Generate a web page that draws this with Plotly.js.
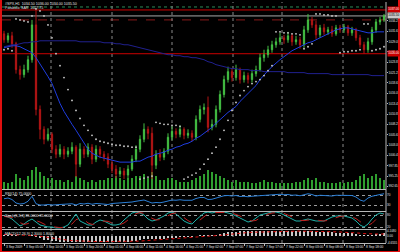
<!DOCTYPE html>
<html><head><meta charset="utf-8">
<script src="https://cdn.plot.ly/plotly-3.0.1.min.js"></script>
<style>html,body{margin:0;padding:0;background:#000;overflow:hidden}#chart{width:400px;height:252px}</style>
</head><body><div id="chart"></div>
<script>
const timeLabels = ["3 Sep 2009","3 Sep 05:00","3 Sep 10:00","3 Sep 15:00","3 Sep 20:00","4 Sep 01:00","4 Sep 06:00","4 Sep 11:00","4 Sep 16:00","4 Sep 21:00","7 Sep 02:00","7 Sep 07:00","7 Sep 12:00","7 Sep 17:00","7 Sep 22:00","8 Sep 03:00","8 Sep 08:00","8 Sep 13:00","8 Sep 18:00"];

const opens = [1031.00,1029.50,1030.50,1028.50,1022.00,1020.75,1022.00,1024.50,1033.25,1012.00,
1007.00,1004.50,1005.75,1002.00,1000.75,1002.00,1000.75,1001.50,1002.50,998.25,
1002.00,1000.75,1002.50,999.50,1002.00,1000.75,1000.00,998.25,997.00,995.75,
996.50,995.50,997.00,999.50,1002.00,1004.50,1007.00,1006.00,998.00,1000.75,
1000.00,1001.50,1005.00,1006.50,1005.75,1007.00,1005.50,1006.00,1005.00,1009.50,
1012.00,1012.50,1007.50,1008.25,1012.00,1015.75,1019.50,1021.50,1020.00,1022.00,
1019.50,1020.50,1019.50,1021.00,1022.00,1025.00,1025.75,1027.00,1028.25,1029.00,
1030.00,1029.50,1030.50,1029.00,1029.50,1028.25,1032.00,1034.50,1033.25,1030.75,
1032.50,1031.50,1032.00,1031.00,1032.50,1032.00,1032.75,1031.25,1032.00,1030.00,
1028.25,1027.00,1029.00,1032.00,1034.00,1034.50];
const highs = [1031.75,1031.25,1031.50,1029.00,1023.00,1023.25,1025.50,1034.50,1037.00,1013.00,
1007.75,1007.25,1006.25,1003.00,1003.25,1002.75,1002.50,1003.75,1003.00,1003.50,
1002.75,1003.50,1003.25,1003.00,1002.75,1001.50,1001.00,999.25,998.00,997.50,
997.25,998.00,1000.50,1003.00,1005.50,1008.50,1007.75,1007.50,1001.75,1002.00,
1002.25,1006.00,1007.75,1007.25,1008.00,1007.50,1007.00,1006.75,1010.50,1013.00,
1013.50,1015.25,1009.50,1013.00,1016.75,1020.50,1022.75,1022.25,1023.25,1022.50,
1021.50,1021.25,1022.00,1023.00,1026.00,1027.00,1028.00,1029.25,1030.00,1031.25,
1030.75,1031.50,1031.00,1030.50,1030.25,1033.00,1036.00,1035.25,1034.25,1033.25,
1033.50,1032.75,1033.00,1033.25,1033.25,1033.50,1033.25,1032.75,1032.50,1030.75,
1029.00,1030.00,1032.75,1034.75,1035.25,1036.00];
const lows = [1028.75,1028.75,1027.50,1021.00,1019.50,1020.00,1021.25,1023.75,1010.50,1004.50,
1003.25,1004.00,1001.00,999.75,1000.00,999.50,1000.00,1000.75,995.00,997.50,
999.75,1000.00,998.25,998.75,999.75,999.00,997.25,996.00,994.75,995.00,
994.50,994.75,996.50,998.75,1001.25,1003.75,1004.50,994.50,997.00,999.00,
999.25,1000.75,1004.25,1004.75,1005.00,1004.50,1004.75,1004.00,1004.25,1008.75,
1010.75,1006.25,1006.75,1007.50,1011.25,1015.00,1018.75,1019.00,1019.25,1018.50,
1018.75,1018.50,1018.75,1020.25,1021.50,1024.00,1025.00,1026.25,1027.50,1028.25,
1028.50,1028.75,1028.00,1028.25,1027.25,1027.50,1031.25,1032.50,1029.75,1030.00,
1030.75,1030.75,1030.25,1030.50,1031.25,1031.25,1030.50,1030.50,1029.25,1027.50,
1026.00,1026.25,1028.25,1031.25,1033.25,1034.00];
const closes = [1029.50,1030.50,1028.50,1022.00,1020.75,1022.00,1024.50,1033.25,1012.00,1007.00,
1004.50,1005.75,1002.00,1000.75,1002.00,1000.75,1001.50,1002.50,998.25,1002.00,
1000.75,1002.50,999.50,1002.00,1000.75,1000.00,998.25,997.00,995.75,996.50,
995.50,997.00,999.50,1002.00,1004.50,1007.00,1006.00,998.00,1000.75,1000.00,
1001.50,1005.00,1006.50,1005.75,1007.00,1005.50,1006.00,1005.00,1009.50,1012.00,
1012.50,1007.50,1008.25,1012.00,1015.75,1019.50,1021.50,1020.00,1022.00,1019.50,
1020.50,1019.50,1021.00,1022.00,1025.00,1025.75,1027.00,1028.25,1029.00,1030.00,
1029.50,1030.50,1029.00,1029.50,1028.25,1032.00,1034.50,1033.25,1030.75,1032.50,
1031.50,1032.00,1031.00,1032.50,1032.00,1032.75,1031.25,1032.00,1030.00,1028.25,
1027.00,1029.00,1032.00,1034.00,1034.50,1035.50];
const volumes = [4,3,4,8,6,5,7,10,12,9,
7,6,6,5,5,4,5,4,7,6,
5,4,5,4,5,5,6,6,7,6,
5,6,6,7,7,8,6,9,7,5,
5,6,6,5,4,4,4,5,6,7,
8,10,9,8,7,6,5,4,5,4,
4,4,3,3,4,5,4,4,3,3,
3,3,3,4,4,5,6,5,6,4,
4,3,3,3,4,3,4,4,5,7,
8,6,7,8,6,5];
const maFast = [1027.50,1027.75,1028.00,1028.00,1027.75,1027.25,1026.75,1026.25,1025.00,1023.50,
1022.00,1020.25,1018.50,1015.75,1013.50,1011.50,1009.75,1008.25,1006.75,1005.25,
1003.75,1002.00,1001.00,1000.50,1000.00,999.75,999.50,999.25,999.00,998.75,
998.75,998.75,998.75,999.00,999.00,999.50,1000.00,1000.25,1000.75,1001.00,
1001.25,1001.75,1002.00,1002.50,1002.75,1003.25,1003.50,1004.00,1004.75,1005.25,
1006.00,1006.75,1007.50,1008.50,1009.50,1010.50,1011.25,1012.00,1012.75,1014.00,
1015.00,1016.00,1016.75,1018.00,1019.50,1020.75,1021.75,1022.75,1023.75,1024.50,
1025.25,1026.00,1026.75,1027.25,1027.75,1028.25,1028.75,1029.00,1029.50,1030.00,
1030.50,1031.00,1031.50,1032.00,1032.25,1032.50,1032.50,1032.25,1032.00,1031.75,
1031.50,1031.25,1031.25,1031.50,1031.50,1031.50];
const maSlow = [1027.75,1028.00,1028.25,1028.25,1028.50,1028.75,1028.75,1029.00,1029.00,1029.25,
1029.25,1029.25,1029.25,1029.25,1029.25,1029.25,1029.25,1029.25,1029.25,1029.00,
1029.00,1029.00,1029.00,1029.00,1029.00,1028.75,1028.75,1028.75,1028.50,1028.50,
1028.25,1028.25,1028.00,1027.75,1027.50,1027.25,1027.00,1026.75,1026.50,1026.25,
1026.00,1025.75,1025.75,1025.50,1025.50,1025.25,1025.25,1025.00,1025.00,1024.75,
1024.50,1024.00,1023.75,1023.25,1023.00,1022.75,1022.50,1022.25,1022.25,1022.00,
1022.00,1022.00,1021.75,1021.75,1021.75,1021.50,1021.50,1021.50,1021.50,1021.50,
1021.50,1021.25,1021.25,1021.25,1021.25,1021.25,1021.00,1021.00,1021.00,1021.00,
1021.00,1021.00,1020.75,1020.75,1020.75,1020.75,1020.75,1020.75,1020.75,1020.75,
1020.75,1020.75,1020.50,1020.50,1020.50,1020.50];
const sar = [1027.00,1027.25,1026.75,1034.75,1034.50,1034.25,1034.00,1035.50,1037.25,1036.75,
1035.50,1033.25,1030.00,1026.00,1023.00,1020.00,1017.00,1014.25,1011.75,1009.75,
1008.00,1006.75,1005.50,1004.50,1004.00,1003.75,1003.50,1003.25,1003.00,1003.00,
1002.75,1002.75,1002.50,1002.50,994.50,994.75,995.00,995.25,1008.75,1008.50,
1008.25,1008.25,1008.00,1008.00,1007.75,994.50,995.00,995.50,996.00,997.00,
998.25,999.50,1001.00,1002.50,1004.50,1006.75,1009.25,1011.75,1013.75,1015.50,
1016.75,1017.75,1018.50,1019.00,1019.50,1020.50,1021.75,1023.00,1031.50,1031.50,
1031.25,1031.25,1031.00,1031.00,1030.75,1027.25,1027.75,1028.50,1036.00,1036.00,
1035.75,1035.75,1035.50,1035.50,1026.25,1026.50,1026.50,1026.75,1026.75,1027.00,
1033.50,1033.50,1026.75,1027.00,1027.25,1027.75];
const rsi = [55,58,52,38,34,36,45,65,35,30,
30,32,30,32,34,33,34,35,30,36,
34,37,33,36,35,34,32,36,37,38,
37,40,42,45,46,50,44,38,40,39,
42,47,50,49,51,49,50,49,56,60,
60,52,53,58,63,67,68,66,68,64,
65,63,65,66,69,70,71,72,72,73,
71,72,69,70,67,72,75,72,66,69,
67,68,66,69,68,70,66,68,62,50,
45,58,65,70,72,75];
const stochMain = [75,70,60,40,25,35,50,60,45,30,
25,20,20,15,15,20,30,55,85,50,
40,30,30,45,55,50,40,30,30,35,
55,75,90,95,90,80,60,50,55,65,
75,90,95,85,65,50,40,35,55,75,
90,95,90,95,95,95,90,85,75,65,
55,45,50,65,80,85,90,95,95,90,
80,70,60,50,50,55,60,55,50,50,
50,60,70,75,75,75,70,65,50,30,
20,35,60,80,90,85];
const stochSignal = [73,72,68,57,42,33,37,45,52,45,
33,25,22,18,17,17,22,35,57,63,
58,40,33,35,43,50,48,40,33,32,
40,55,73,87,92,88,77,63,55,57,
65,77,87,90,82,67,52,42,43,55,
73,87,92,93,93,95,93,90,83,75,
65,55,50,53,65,77,85,90,93,93,
88,80,70,60,53,52,55,57,55,52,
50,53,60,68,73,75,73,70,62,48,
33,28,38,58,77,85];
const macdHist = [1.2,1.3,1.2,0.8,0.4,0.2,0.3,0.9,-0.6,-1.6,
-2.4,-2.8,-3.2,-3.6,-3.9,-4.1,-4.2,-4.2,-4.4,-4.2,
-4.2,-4.0,-4.1,-4.0,-3.9,-3.9,-4.0,-4.1,-4.3,-4.3,
-4.3,-4.1,-3.7,-3.2,-2.7,-2.1,-2.0,-2.3,-2.2,-2.1,
-1.9,-1.5,-1.1,-0.9,-0.7,-0.6,-0.5,-0.4,0.1,0.7,
1.0,0.9,0.9,1.2,1.8,2.5,3.0,3.3,3.6,3.7,
3.7,3.7,3.7,3.8,4.0,4.1,4.2,4.3,4.3,4.3,
4.2,4.2,4.0,3.9,3.7,3.8,4.0,3.9,3.6,3.5,
3.3,3.2,3.0,2.9,2.8,2.7,2.5,2.3,1.9,1.3,
0.8,0.8,1.1,1.5,1.9,2.3];
const macdSignal = [1.5,1.4,1.4,1.3,1.1,0.9,0.8,0.8,0.5,0.1,
-0.4,-0.9,-1.4,-1.8,-2.2,-2.6,-2.9,-3.2,-3.4,-3.6,
-3.7,-3.8,-3.9,-3.9,-3.9,-3.9,-3.9,-4.0,-4.0,-4.1,
-4.1,-4.1,-4.0,-3.8,-3.6,-3.3,-3.1,-2.9,-2.8,-2.6,
-2.5,-2.3,-2.0,-1.8,-1.6,-1.4,-1.2,-1.0,-0.8,-0.5,
-0.2,0.0,0.2,0.4,0.7,1.0,1.4,1.8,2.1,2.4,
2.7,2.9,3.1,3.2,3.4,3.5,3.7,3.8,3.9,4.0,
4.0,4.1,4.1,4.0,4.0,3.9,3.9,3.9,3.8,3.8,
3.7,3.6,3.5,3.4,3.3,3.2,3.0,2.9,2.7,2.4,
2.1,1.9,1.7,1.7,1.7,1.8];
const priceTicks = [1034.25,1031.65,1029.05,1026.45,1023.85,1021.25,1018.65,1016.05,1013.45,1010.85,1008.25,1005.65,1003.05,1000.45,997.85,995.25,992.65];
const levelValues = [1037.75,1037.00,1035.50,1034.50,1026.00];
const rsiLevels = [30,70];
const stochLevels = [20,80];
const macdTicks = [4.1080,0,-4.6555];
const gridBars = [11.75,27,42,57.25,69.5,84.75];

const n = closes.length;
const idx = closes.map((_, i) => i);
const labelBars = timeLabels.map((_, k) => k * 5);
const last = a => a[a.length - 1];

const traces = [
  {type:'bar', x:idx, y:volumes, yaxis:'y', marker:{color:'#2f9e2f', line:{width:0}}, width:0.3, hoverinfo:'skip'},
  {type:'candlestick', x:idx, open:opens, high:highs, low:lows, close:closes, xaxis:'x', yaxis:'y2',
   increasing:{line:{color:'#44c044', width:1}, fillcolor:'#44c044'},
   decreasing:{line:{color:'#b31515', width:1}, fillcolor:'#b31515'},
   whiskerwidth:0, hoverinfo:'skip'},
  {type:'scatter', mode:'lines', x:idx, y:maSlow, yaxis:'y2', line:{color:'#20208e', width:1}, hoverinfo:'skip'},
  {type:'scatter', mode:'lines', x:idx, y:maFast, yaxis:'y2', line:{color:'#1f3de0', width:1}, hoverinfo:'skip'},
  {type:'scatter', mode:'markers', x:idx, y:sar, yaxis:'y2', marker:{color:'#cfcfcf', size:1.8}, hoverinfo:'skip'},
  {type:'scatter', mode:'lines', x:idx, y:rsi, yaxis:'y3', line:{color:'#2b7fd6', width:1}, hoverinfo:'skip'},
  {type:'scatter', mode:'lines', x:idx, y:stochMain, yaxis:'y4', line:{color:'#20b2aa', width:1}, hoverinfo:'skip'},
  {type:'scatter', mode:'lines', x:idx, y:stochSignal, yaxis:'y4', line:{color:'#c02020', width:1, dash:'dash'}, hoverinfo:'skip'},
  {type:'bar', x:idx, y:macdHist, yaxis:'y5', marker:{color:'#c8c8c8', line:{width:0}}, width:0.3, hoverinfo:'skip'},
  {type:'scatter', mode:'lines', x:idx, y:macdSignal, yaxis:'y5', line:{color:'#e01010', width:1, dash:'dot'}, hoverinfo:'skip'}
];

// margins l2 r14 t2 b9 -> plot area 384 x 241 (py 2..243)
const px = v => (v - 2) / 384;
const py = v => (243 - v) / 241;

const levelStyles = [
  {color:'#2e8b57', dash:'dot'},
  {color:'#cc0000', dash:'solid'},
  {color:'#a8a8a8', dash:'solid'},
  {color:'#8b1a1a', dash:'dash'},
  {color:'#cc0000', dash:'solid'}
];
const shapes = [];
levelValues.forEach((v, k) => shapes.push({type:'line', xref:'paper', yref:'y2', x0:0, x1:1, y0:v, y1:v, layer:'below', line:{color:levelStyles[k].color, width:1, dash:levelStyles[k].dash}}));
gridBars.forEach(b => shapes.push({type:'line', xref:'x', yref:'paper', x0:b, x1:b, y0:0, y1:1, layer:'below', line:{color:'#8a8a8a', width:1, dash:'dot'}}));
[189.5, 211.5, 229.5].forEach(v => shapes.push({type:'line', xref:'paper', yref:'paper', x0:0, x1:1, y0:py(v), y1:py(v), line:{color:'#b8b8b8', width:1}}));
shapes.push({type:'line', xref:'paper', yref:'paper', x0:1, x1:1, y0:0, y1:1, line:{color:'#b8b8b8', width:1}});
shapes.push({type:'line', xref:'paper', yref:'paper', x0:px(1), x1:px(1), y0:py(252), y1:py(0), line:{color:'#e01010', width:2}});
shapes.push({type:'line', xref:'paper', yref:'paper', x0:px(399), x1:px(399), y0:py(252), y1:py(0), line:{color:'#e01010', width:2}});
shapes.push({type:'line', xref:'paper', yref:'paper', x0:px(0), x1:px(400), y0:py(251.5), y1:py(251.5), line:{color:'#e01010', width:1}});

const fam = 'Liberation Sans, Arial, sans-serif';
const small = {family:fam, size:3.6, color:'#e6e6e6'};
const annotations = [
  {xref:'paper', yref:'paper', x:px(4), y:py(0.5), xanchor:'left', yanchor:'top', showarrow:false, font:small, borderpad:0,
   text:`#SPX,H1  ${last(opens).toFixed(2)} ${last(highs).toFixed(2)} ${last(lows).toFixed(2)} ${last(closes).toFixed(2)}`},
  {xref:'paper', yref:'paper', x:px(4), y:py(5.2), xanchor:'left', yanchor:'top', showarrow:false, font:small, borderpad:0,
   text:`Parabolic SAR  ${last(sar).toFixed(2)}`},
  {xref:'paper', yref:'paper', x:px(4), y:py(190.5), xanchor:'left', yanchor:'top', showarrow:false, font:small, borderpad:0,
   text:`RSI(14) ${last(rsi).toFixed(4)}`},
  {xref:'paper', yref:'paper', x:px(4), y:py(212.5), xanchor:'left', yanchor:'top', showarrow:false, font:small, borderpad:0,
   text:`Stoch(5,3,3) ${last(stochMain).toFixed(4)} ${last(stochSignal).toFixed(4)}`},
  {xref:'paper', yref:'paper', x:px(4), y:py(230.5), xanchor:'left', yanchor:'top', showarrow:false, font:small, borderpad:0,
   text:`MACD(12,26,9) ${last(macdHist).toFixed(4)} ${last(macdSignal).toFixed(4)}`}
];
[[1,'#cc0000','#ffffff'],[2,'#c8c8c8','#000000'],[4,'#cc0000','#ffffff']].forEach(([k,bg,fg]) => annotations.push({
  xref:'paper', yref:'y2', x:1, y:levelValues[k], xanchor:'left', yanchor:'middle', xshift:0.5, showarrow:false,
  text:levelValues[k].toFixed(2), bgcolor:bg, borderpad:0.3, font:{family:fam, size:3, color:fg}
}));
// time labels on the bottom axis, left-aligned at each tick like the terminal does
timeLabels.forEach((t, k) => annotations.push({
  xref:'x', yref:'paper', x:labelBars[k], y:py(244), xanchor:'left', yanchor:'top', xshift:0.5, showarrow:false,
  text:t, borderpad:0, font:{family:fam, size:3.2, color:'#e6e6e6'}
}));

const axFont = {family:fam, size:3, color:'#e6e6e6'};
const layout = {
  width:400, height:252,
  margin:{l:2, r:14, t:2, b:9, pad:0},
  paper_bgcolor:'#000000', plot_bgcolor:'#000000',
  showlegend:false, bargap:0, boxgap:0.55, hovermode:false,
  font:small,
  xaxis:{domain:[0,1], range:[-0.5, n - 0.5], anchor:'y5', showgrid:false, zeroline:false,
    showline:true, linecolor:'#b8b8b8', linewidth:1,
    ticks:'outside', ticklen:1.5, tickcolor:'#b8b8b8', tickvals:labelBars, showticklabels:false,
    rangeslider:{visible:false}, fixedrange:true},
  yaxis:{domain:[py(189), 1], range:[0, 100], visible:false, fixedrange:true},
  yaxis2:{overlaying:'y', anchor:'x', side:'right', range:[992, 1039], tickvals:priceTicks,
    ticktext:priceTicks.map(v => v.toFixed(2)), showgrid:false, zeroline:false, showline:false,
    ticks:'outside', ticklen:1, tickcolor:'#b8b8b8', ticklabelstandoff:0, tickfont:axFont, fixedrange:true},
  yaxis3:{domain:[py(211), py(190)], anchor:'x', side:'right', range:[6, 90], tickvals:rsiLevels,
    ticktext:rsiLevels.map(String), showgrid:true, gridcolor:'#9a9a9a', griddash:'dot', gridwidth:1,
    zeroline:false, ticks:'', tickfont:axFont, fixedrange:true},
  yaxis4:{domain:[py(229), py(212)], anchor:'x', side:'right', range:[10, 95], tickvals:stochLevels,
    ticktext:stochLevels.map(String), showgrid:true, gridcolor:'#9a9a9a', griddash:'dot', gridwidth:1,
    zeroline:false, ticks:'', tickfont:axFont, fixedrange:true},
  yaxis5:{domain:[0, py(230)], anchor:'x', side:'right', range:[-5, 4.8], tickvals:macdTicks,
    ticktext:macdTicks.map(v => v === 0 ? '0.00' : v.toFixed(4)), showgrid:false, zeroline:false,
    ticks:'', ticklabelstandoff:0, tickfont:axFont, fixedrange:true},
  shapes:shapes,
  annotations:annotations
};

Plotly.newPlot('chart', traces, layout, {displayModeBar:false, staticPlot:true});
</script>
</body></html>
